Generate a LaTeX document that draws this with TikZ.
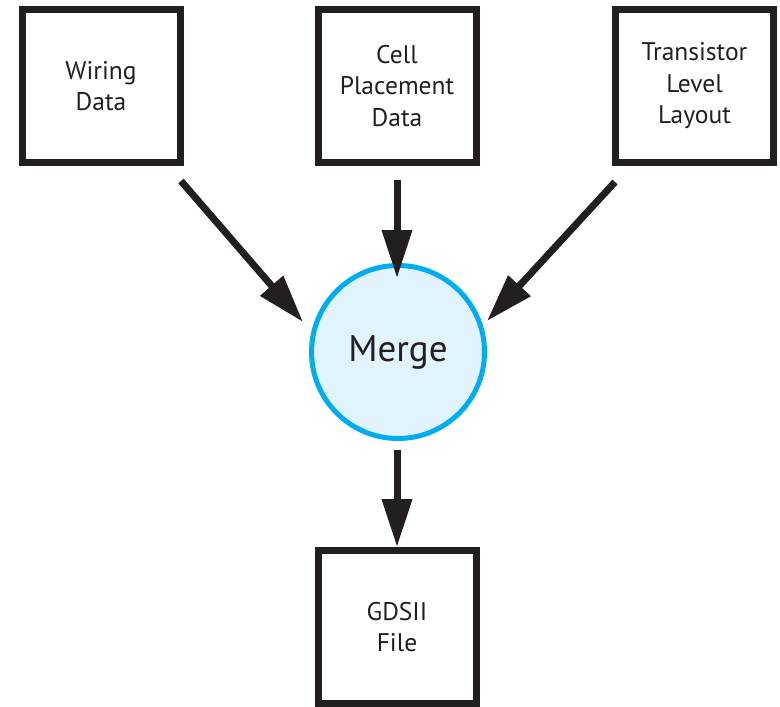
\documentclass[tikz,border=0pt]{standalone}
\usepackage{fontspec}
\setmainfont{PT Sans}
\usetikzlibrary{arrows.meta}
\definecolor{ink}{HTML}{231F20}
\definecolor{ringblue}{HTML}{00AEEF}
\definecolor{ringfill}{HTML}{E1F3FC}
\tikzset{
  databox/.style={draw=ink, line width=7pt, minimum width=158pt, minimum height=153pt,
    inner sep=0pt, align=center, text=ink, font=\fontsize{25.5}{31.5}\selectfont},
  mergenode/.style={circle, draw=ringblue, fill=ringfill, line width=5pt,
    minimum size=173pt, inner sep=0pt, text=ink, font=\fontsize{37}{42}\selectfont},
  flow/.style={draw=ink, line width=7pt,
    -{Triangle[length=48pt, width=29pt]}}
}
\begin{document}
\begin{tikzpicture}[x=1pt, y=-1pt]
  \useasboundingbox (0,0) rectangle (780,707);
  % inputs
  \node[databox] (wiring) at (101,86) {Wiring\\Data};
  \node[databox] (cell) at (397,86) {Cell\\Placement\\Data};
  \node[databox] (trans) at (694.5,86) {Transistor\\Level\\Layout};
  % merge step
  \node[mergenode] (merge) at (398,352) {Merge};
  % output
  \node[databox] (gds) at (397,627) {GDSII\\File};
  % arrow ends
  \coordinate (w0) at (181,181);
  \coordinate (w1) at (303,322);
  \coordinate (c0) at (397,180);
  \coordinate (c1) at (397,278);
  \coordinate (t0) at (615,182);
  \coordinate (t1) at (487,321);
  \coordinate (m0) at (397,450);
  \coordinate (g1) at (397,547);
  \draw[flow] (w0) -- (w1);
  \draw[flow] (c0) -- (c1);
  \draw[flow] (t0) -- (t1);
  \draw[flow] (m0) -- (g1);
\end{tikzpicture}
\end{document}
